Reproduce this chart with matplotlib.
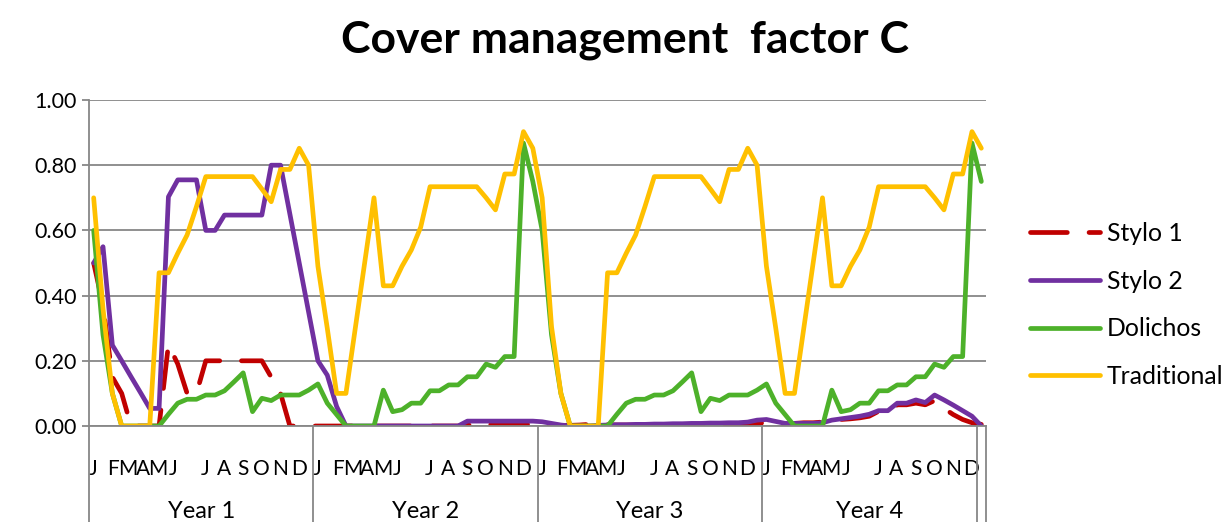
import matplotlib
matplotlib.use("Agg")
import matplotlib.pyplot as plt

plt.rcParams['font.family'] = ['Lato', 'DejaVu Sans']

# ---- chart data -------------------------------------------------------------
title = "Cover management  factor C"
series_names = ["Stylo 1", "Stylo 2", "Dolichos", "Traditional"]
year_labels = ["Year 1", "Year 2", "Year 3", "Year 4", ""]
year_lengths = [24, 24, 24, 23, 1]          # number of observations under each year label
month_labels = ["J", "F", "M", "A", "M", "J", "J", "A", "S", "O", "N", "D"]
# where each month letter sits inside a year, in observation units from the year's start
month_offsets = [0.45, 2.6, 4.2, 5.8, 7.4, 9.0, 12.45, 14.4, 16.5, 18.45, 20.5, 22.45]

stylo1 = [
    0.50, 0.37, 0.15, 0.10, 0.00, 0.00, 0.00, 0.00, 0.25, 0.19, 0.10, 0.10,
    0.20, 0.20, 0.20, 0.20, 0.20, 0.20, 0.20, 0.15, 0.10, 0.00, 0.00, 0.00,
    0.00, 0.00, 0.00, 0.00, 0.00, 0.00, 0.00, 0.00, 0.00, 0.00, 0.00, 0.00,
    0.00, 0.00, 0.00, 0.00, 0.003, 0.004, 0.004, 0.005, 0.005, 0.005, 0.005, 0.005,
    0.004, 0.003, 0.002, 0.002, 0.003, 0.005, 0.008, 0.004, 0.003, 0.003, 0.003, 0.003,
    0.003, 0.004, 0.004, 0.004, 0.004, 0.005, 0.005, 0.005, 0.006, 0.006, 0.007, 0.008,
    0.010, 0.008, 0.006, 0.008, 0.010, 0.010, 0.012, 0.015, 0.020, 0.022, 0.025, 0.030,
    0.045, 0.045, 0.065, 0.065, 0.070, 0.065, 0.078, 0.054, 0.035, 0.020, 0.010, 0.005,
]
stylo2 = [
    0.50, 0.55, 0.248, 0.20, 0.151, 0.103, 0.054, 0.054, 0.703, 0.755, 0.755, 0.755,
    0.60, 0.60, 0.647, 0.647, 0.647, 0.647, 0.647, 0.80, 0.80, 0.65, 0.50, 0.35,
    0.20, 0.156, 0.06, 0.00, 0.00, 0.00, 0.00, 0.00, 0.00, 0.00, 0.00, 0.00,
    0.00, 0.00, 0.00, 0.00, 0.015, 0.015, 0.015, 0.015, 0.015, 0.015, 0.015, 0.015,
    0.013, 0.008, 0.003, 0.00, 0.00, 0.00, 0.002, 0.003, 0.004, 0.004, 0.005, 0.005,
    0.006, 0.006, 0.007, 0.007, 0.008, 0.008, 0.009, 0.009, 0.010, 0.010, 0.012, 0.018,
    0.020, 0.014, 0.008, 0.008, 0.008, 0.008, 0.010, 0.018, 0.022, 0.026, 0.030, 0.036,
    0.047, 0.047, 0.070, 0.070, 0.080, 0.072, 0.095, 0.080, 0.064, 0.047, 0.030, 0.000,
]
dolichos = [
    0.60, 0.28, 0.10, 0.00, 0.00, 0.00, 0.00, 0.00, 0.036, 0.07, 0.082, 0.082,
    0.095, 0.095, 0.108, 0.135, 0.163, 0.044, 0.085, 0.078, 0.095, 0.095, 0.095, 0.11,
    0.129, 0.07, 0.035, 0.00, 0.00, 0.00, 0.00, 0.11, 0.044, 0.05, 0.07, 0.07,
    0.108, 0.108, 0.126, 0.126, 0.151, 0.151, 0.19, 0.18, 0.213, 0.213, 0.868, 0.75,
    0.60, 0.28, 0.10, 0.00, 0.00, 0.00, 0.00, 0.00, 0.036, 0.07, 0.082, 0.082,
    0.095, 0.095, 0.108, 0.135, 0.163, 0.044, 0.085, 0.078, 0.095, 0.095, 0.095, 0.11,
    0.129, 0.07, 0.035, 0.00, 0.00, 0.00, 0.00, 0.11, 0.044, 0.05, 0.07, 0.07,
    0.108, 0.108, 0.126, 0.126, 0.151, 0.151, 0.19, 0.18, 0.213, 0.213, 0.868, 0.75,
]
traditional = [
    0.70, 0.36, 0.10, 0.00, 0.00, 0.00, 0.00, 0.47, 0.47, 0.53, 0.586, 0.673,
    0.765, 0.765, 0.765, 0.765, 0.765, 0.765, 0.727, 0.688, 0.787, 0.787, 0.852, 0.80,
    0.49, 0.30, 0.10, 0.10, 0.30, 0.50, 0.70, 0.43, 0.43, 0.49, 0.54, 0.61,
    0.734, 0.734, 0.734, 0.734, 0.734, 0.734, 0.70, 0.663, 0.773, 0.773, 0.903, 0.852,
    0.70, 0.305, 0.10, 0.00, 0.00, 0.00, 0.00, 0.47, 0.47, 0.53, 0.586, 0.673,
    0.765, 0.765, 0.765, 0.765, 0.765, 0.765, 0.727, 0.688, 0.787, 0.787, 0.852, 0.80,
    0.49, 0.30, 0.10, 0.10, 0.30, 0.50, 0.70, 0.43, 0.43, 0.49, 0.54, 0.61,
    0.734, 0.734, 0.734, 0.734, 0.734, 0.734, 0.70, 0.663, 0.773, 0.773, 0.903, 0.852,
]
y_ticks = [0.0, 0.2, 0.4, 0.6, 0.8, 1.0]

# ---- styling ----------------------------------------------------------------
colors = ["#C00000", "#7030A0", "#4DB12A", "#FFC000"]
grid_color = "#878787"
line_width = 3.4

fig = plt.figure(figsize=(12.24, 5.22), dpi=100)
ax = fig.add_axes([89 / 1224, 96 / 522, (986 - 89) / 1224, 326 / 522])

n_obs = sum(year_lengths)
x = list(range(n_obs))

for name, values, color in zip(series_names, [stylo1, stylo2, dolichos, traditional], colors):
    kw = dict(color=color, lw=line_width, label=name,
              solid_joinstyle="round", solid_capstyle="round",
              dash_joinstyle="round", dash_capstyle="round")
    if name == "Stylo 1":
        kw["dashes"] = (7.8, 4.6)
    ax.plot(x, values, **kw)

ax.set_xlim(-0.5, n_obs - 0.5)
ax.set_ylim(0, 1)
ax.set_yticks(y_ticks)
ax.set_yticklabels([f"{v:.2f}" for v in y_ticks])
ax.yaxis.grid(True, color=grid_color, lw=1.3)
ax.set_axisbelow(True)
for side in ("top", "right"):
    ax.spines[side].set_visible(False)
for side in ("left", "bottom"):
    ax.spines[side].set_color(grid_color)
    ax.spines[side].set_linewidth(1.3)
ax.tick_params(axis="y", length=5, width=1.3, color=grid_color, pad=4,
               labelsize=15.5, labelcolor="black")

# month letters along the inner category row
starts = [-0.5]
for n in year_lengths:
    starts.append(starts[-1] + n)
month_pos, month_txt = [], []
for s, n in zip(starts[:-1], year_lengths):
    if n < 12:
        continue
    for off, m in zip(month_offsets, month_labels):
        month_pos.append(s + off)
        month_txt.append(m)
ax.set_xticks(month_pos)
ax.set_xticklabels(month_txt)
ax.tick_params(axis="x", length=0, pad=24, labelsize=15, labelcolor="black")

# outer category row: year groups with separators
xt = ax.get_xaxis_transform()
for b in starts:
    ax.plot([b, b], [0, -0.3], transform=xt, clip_on=False,
            color=grid_color, lw=1.3)
for s, n, lab in zip(starts[:-1], year_lengths, year_labels):
    ax.text(s + n / 2, -0.262, lab, transform=xt, ha="center", va="center",
            fontsize=17)

fig.text(625 / 1224, 1 - 40 / 522, title, ha="center", va="center",
         fontsize=32, fontweight="bold")

ax.legend(loc="center left", bbox_to_anchor=(1030 / 1224, 1 - 305 / 522),
          bbox_transform=fig.transFigure, frameon=False, fontsize=17.8,
          handlelength=2.83, handletextpad=0.28, labelspacing=1.0,
          borderpad=0, borderaxespad=0)

fig.savefig("out.png", dpi=100)
